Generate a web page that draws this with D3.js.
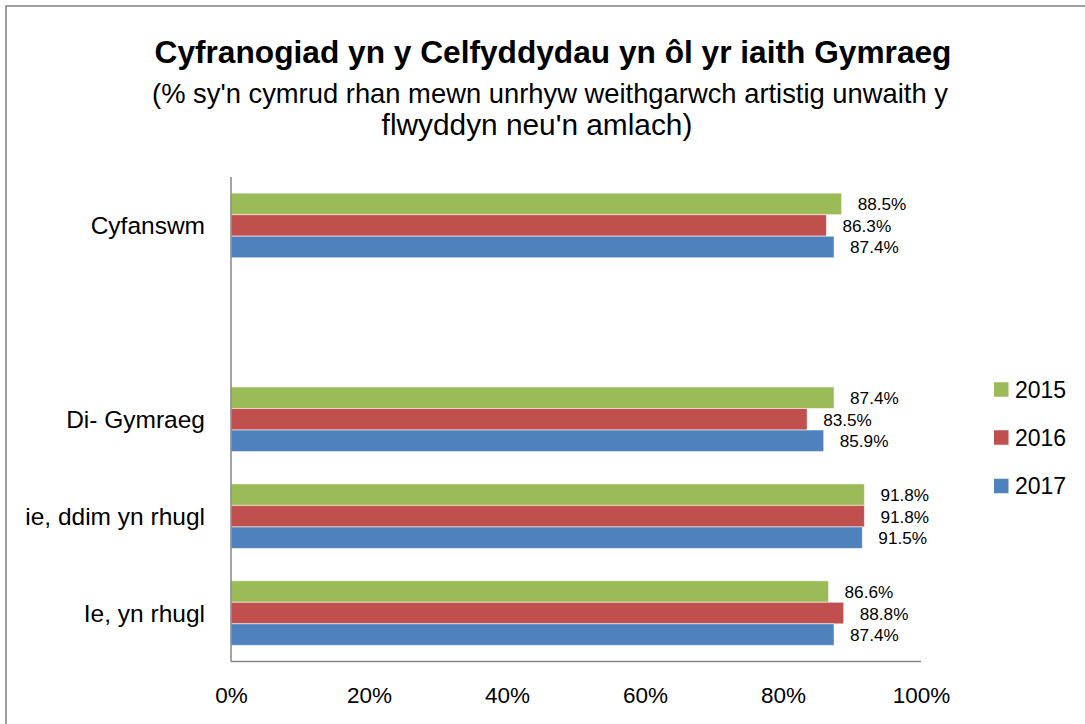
<!DOCTYPE html>
<html>
<head>
<meta charset="utf-8">
<script src="https://cdn.jsdelivr.net/npm/d3@7"></script>
<style>
  html, body { margin: 0; padding: 0; background: #fff; }
  svg { display: block; font-family: "Liberation Sans", Arial, sans-serif; }
</style>
</head>
<body>
<svg id="chart" width="1085" height="724"></svg>
<script>
const titleText = "Cyfranogiad yn y Celfyddydau yn ôl yr iaith Gymraeg";
const subtitleLines = ["(% sy'n cymrud rhan mewn unrhyw weithgarwch artistig unwaith y", "flwyddyn neu'n amlach)"];
const categories = ["Cyfanswm", "", "Di- Gymraeg", "ie, ddim yn rhugl", "Ie, yn rhugl"];
const seriesNames = ["2015", "2016", "2017"];
const seriesColors = ["#9BBB59", "#C0504D", "#4F81BD"];
const values2015 = [88.5, null, 87.4, 91.8, 86.6];
const values2016 = [86.3, null, 83.5, 91.8, 88.8];
const values2017 = [87.4, null, 85.9, 91.5, 87.4];
const xTicks = [0, 20, 40, 60, 80, 100];

const seriesValues = [values2015, values2016, values2017];

const svg = d3.select("#chart");

// outer border
svg.append("rect").attr("x", 6).attr("y", 6).attr("width", 1200).attr("height", 900)
  .attr("fill", "none").attr("stroke", "#898989").attr("stroke-width", 1.6);

function fitText(sel, target, baseSize) {
  const w = sel.node().getComputedTextLength();
  sel.attr("font-size", baseSize * target / w);
}
const title = svg.append("text").attr("x", 553).attr("y", 63).attr("text-anchor", "middle")
  .attr("font-weight", "bold").attr("font-size", 30).attr("fill", "#000").text(titleText);
fitText(title, 797, 30);

const subCenters = [550, 537];
const subWidths = [796, 311];
const subBase = [103, 135];
subtitleLines.forEach((t, i) => {
  const s = svg.append("text").attr("x", subCenters[i]).attr("y", subBase[i]).attr("text-anchor", "middle")
    .attr("font-size", 22).attr("fill", "#000").text(t);
  fitText(s, subWidths[i], 22);
});

const x0 = 231, x1 = 921, yTop = 177, yBot = 661.5;
const x = d3.scaleLinear().domain([0, 100]).range([x0, x1]);
const y = d3.scaleBand().domain(categories).range([yTop, yBot]).paddingInner(1/3).paddingOuter(1/6);
const ySub = d3.scaleBand().domain(seriesNames).range([0, y.bandwidth()]);

// bars
const g = svg.append("g");
seriesNames.forEach((s, si) => {
  const data = categories.map((c, ci) => ({ c, v: seriesValues[si][ci] })).filter(d => d.v != null);
  g.selectAll(".bar" + si).data(data).enter().append("rect")
    .attr("x", x(0))
    .attr("y", d => y(d.c) + ySub(s))
    .attr("width", d => x(d.v) - x(0))
    .attr("height", ySub.bandwidth())
    .attr("fill", seriesColors[si])
    .attr("stroke", "rgba(255,255,255,0.55)").attr("stroke-width", 1);
  g.selectAll(".lab" + si).data(data).enter().append("text")
    .attr("x", d => x(d.v) + 16)
    .attr("y", d => y(d.c) + ySub(s) + ySub.bandwidth() / 2 + 6.5)
    .attr("font-size", 17.2).attr("fill", "#000")
    .text(d => d.v.toFixed(1) + "%");
});

// axes lines
svg.append("line").attr("x1", x0).attr("x2", x0).attr("y1", yTop).attr("y2", yBot)
  .attr("stroke", "#868686").attr("stroke-width", 1.5);
svg.append("line").attr("x1", x0).attr("x2", x1).attr("y1", yBot).attr("y2", yBot)
  .attr("stroke", "#868686").attr("stroke-width", 1.5);

// x axis tick labels
const xAxis = d3.axisBottom(x).tickValues(xTicks).tickFormat(d => d + "%").tickSize(0).tickPadding(0);
const xg = svg.append("g").attr("transform", `translate(0,${yBot})`).call(xAxis);
xg.select(".domain").remove();
xg.selectAll("text").attr("font-size", 22.5).attr("font-family", "Liberation Sans, Arial, sans-serif")
  .attr("fill", "#000").attr("dy", null).attr("y", 41.5);

// y axis category labels
const yAxis = d3.axisLeft(y).tickSize(0).tickPadding(0);
const yg = svg.append("g").attr("transform", `translate(205,0)`).call(yAxis);
yg.select(".domain").remove();
yg.selectAll("text").attr("font-size", 24.5).attr("font-family", "Liberation Sans, Arial, sans-serif")
  .attr("fill", "#000").attr("x", 0).attr("dy", "0.35em");

// legend
const leg = svg.append("g");
const legY = [389.5, 437.5, 486];
seriesNames.forEach((s, i) => {
  leg.append("rect").attr("x", 994).attr("y", legY[i] - 7.25).attr("width", 14.5).attr("height", 14.5)
    .attr("fill", seriesColors[i]);
  leg.append("text").attr("x", 1015).attr("y", legY[i]).attr("dy", "0.35em")
    .attr("font-size", 23).attr("fill", "#000").text(s);
});
</script>
</body>
</html>
